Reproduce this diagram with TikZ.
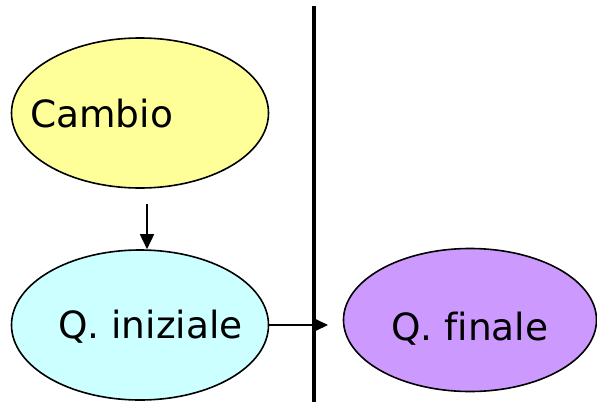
\documentclass[tikz,border=0pt]{standalone}
\usepackage{fontspec}
\setmainfont[Ligatures={NoCommon}]{DejaVu Sans}
\usetikzlibrary{shapes.geometric,arrows.meta}
\definecolor{cyel}{HTML}{FFFF99}
\definecolor{ccyan}{HTML}{CCFFFF}
\definecolor{cpurp}{HTML}{CC99FF}
\tikzset{
  blob/.style={ellipse, draw=black, line width=1.6pt, inner sep=0pt},
  lbl/.style={font=\fontsize{37.5}{42}\selectfont, inner sep=0pt, anchor=base west},
  arr/.style={line width=1.6pt, -{Triangle[length=15pt,width=14pt]}},
}
\begin{document}
\begin{tikzpicture}[x=1pt,y=-1pt]
\useasboundingbox (0,0) rectangle (597,402);
\node[blob, fill=cyel, minimum width=257pt, minimum height=150pt] (cambio) at (140,113) {};
\node[blob, fill=ccyan, minimum width=257pt, minimum height=150pt] (iniz) at (140,325) {};
\node[blob, fill=cpurp, minimum width=253pt, minimum height=143pt] (fin) at (470,320) {};
\node[lbl] (tc) at (30,127) {Cambio};
\node[lbl] (ti) at (58,338) {Q. iniziale};
\node[lbl] (tf) at (391,340) {Q. finale};
\coordinate (ltop) at (314,6);
\coordinate (lbot) at (314,402);
\draw[line width=4pt] (ltop) -- (lbot);
\coordinate (hend) at (328,325);
\draw[arr] ([xshift=7pt,yshift=-15pt]cambio.south) -- ([xshift=7pt]iniz.north);
\draw[arr] (iniz.east) -- (hend);
\end{tikzpicture}
\end{document}
